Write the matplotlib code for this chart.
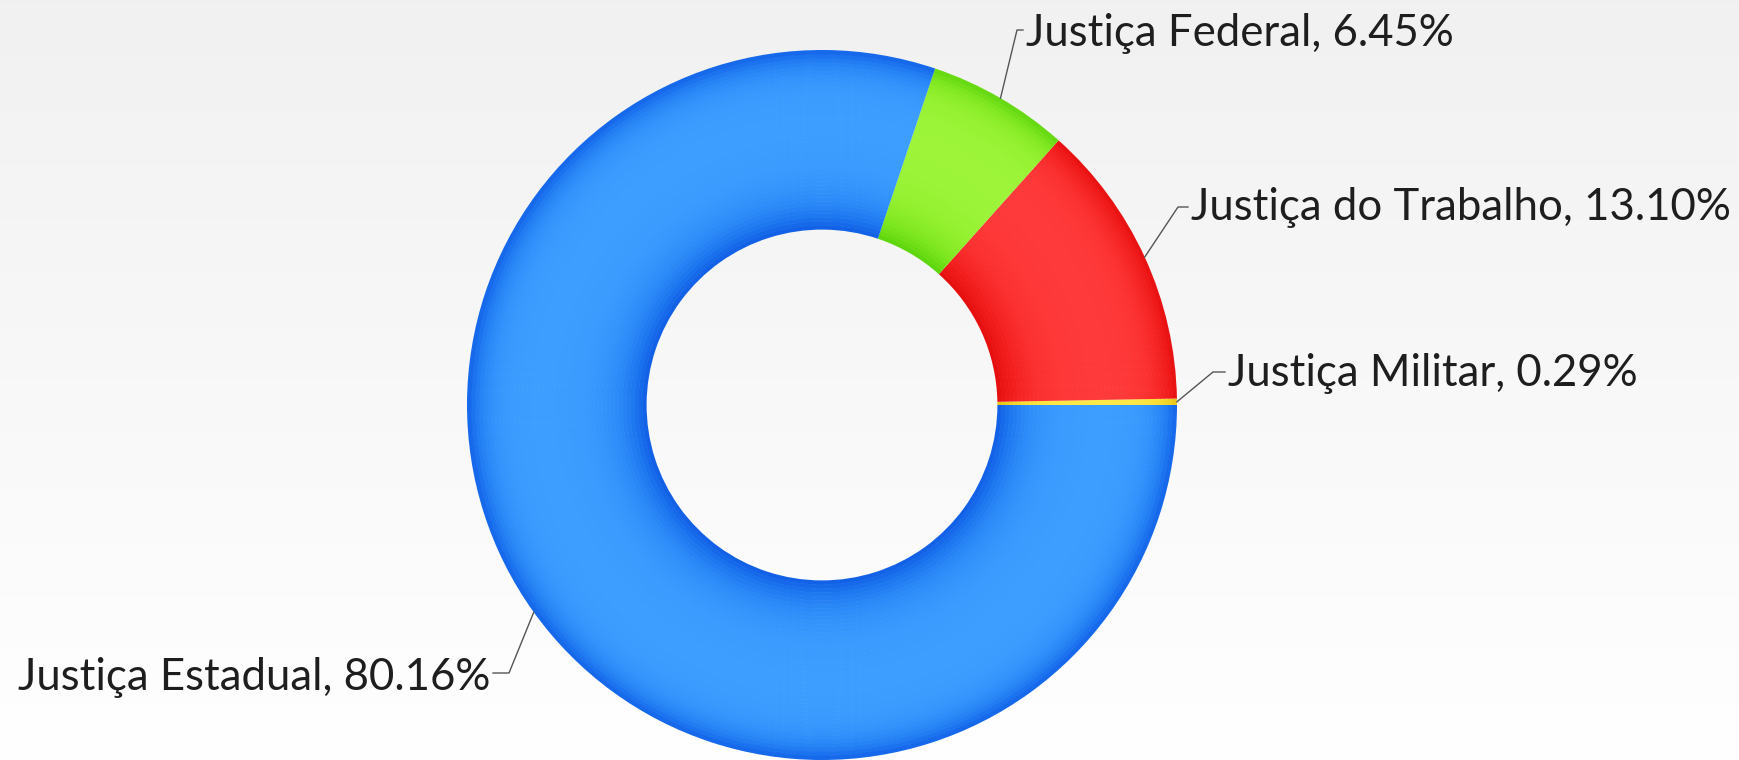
import numpy as np
import matplotlib
matplotlib.use("Agg")
import matplotlib.pyplot as plt
from matplotlib.colors import to_rgb

# --- data ---
labels = ["Justiça Militar", "Justiça do Trabalho", "Justiça Federal", "Justiça Estadual"]
shares = [0.29, 13.10, 6.45, 80.16]
colors = ["#ffe94a", "#ff3b3b", "#9ef53a", "#3f9fff"]

# label layout (elbow of the leader line, text anchor, alignment), pixel coords with y up
label_layout = {
    "Justiça Militar": ((1213, 388), (1228, 386), "left"),
    "Justiça do Trabalho": ((1178, 553), (1191, 553), "left"),
    "Justiça Federal": ((1017, 730), (1026, 726), "left"),
    "Justiça Estadual": ((509, 87), (490, 83), "right"),
}

W, H = 1739, 760
cx, cy = 822, 355
r_out, r_in = 355, 176

fig = plt.figure(figsize=(W / 100, H / 100), dpi=100)
ax = fig.add_axes([0, 0, 1, 1])

# background: light grey at top fading to white
grad = np.linspace(0.945, 1.0, 256).reshape(-1, 1)
ax.imshow(np.dstack([grad, grad, grad]), extent=[0, W, 0, H], origin="upper",
          aspect="auto", zorder=0)

# ring drawn in thin radial bands, deeper colour at the inner and outer rims
n_bands = 45
edges = np.linspace(r_in, r_out, n_bands + 1)
base = np.array([to_rgb(c) for c in colors])
wedges = None
for i in range(n_bands):
    r0, r1 = edges[i], edges[i + 1]
    rm = 0.5 * (r0 + r1)
    d = 0.9 * np.exp(-(rm - r_in) / 22) + 0.8 * np.exp(-(r_out - rm) / 15)
    band_cols = np.clip(base ** (1 + d) * (1 - 0.12 * d), 0, 1)
    w, _ = ax.pie(shares, colors=band_cols, startangle=0, counterclock=True,
                  radius=r1, center=(cx, cy),
                  wedgeprops=dict(width=r1 - r0 + 0.6, linewidth=0, antialiased=True))
    for p in w:
        p.set_zorder(2)
    if wedges is None:
        wedges = w

# labels with leader lines from the outer edge at each wedge's mid angle
for wedge, name, val in zip(wedges, labels, shares):
    mid = np.radians(0.5 * (wedge.theta1 + wedge.theta2))
    ex, ey = cx + r_out * np.cos(mid), cy + r_out * np.sin(mid)
    (bx, by), (tx, ty), ha = label_layout[name]
    hx = tx + (3 if ha == "right" else -3)
    ax.plot([ex, bx, hx], [ey, by, by], color="#555555", lw=1.0, zorder=3)
    ax.text(tx, ty, f"{name}, {val:.2f}%", ha=ha, va="center",
            fontsize=31.5, family="Lato", color="#1e1e1e", zorder=4)

ax.set_xlim(0, W)
ax.set_ylim(0, H)
ax.set_aspect("equal")
ax.axis("off")

fig.savefig("out.png", dpi=100)
